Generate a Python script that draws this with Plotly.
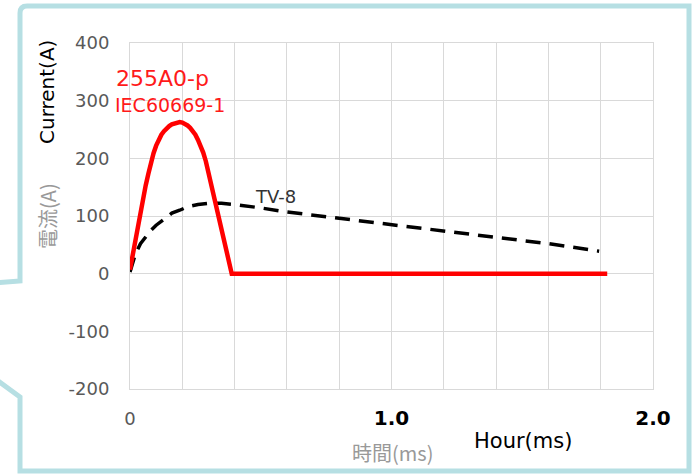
import plotly.graph_objects as go

# ---- data ----
pulse_t = [0, 0.01, 0.02, 0.03, 0.04, 0.05, 0.06, 0.07, 0.08, 0.09, 0.10, 0.11, 0.12, 0.13, 0.14, 0.15, 0.16, 0.17,
           0.18, 0.19, 0.20, 0.21, 0.22, 0.23, 0.24, 0.25, 0.26, 0.27, 0.28, 0.29, 0.30, 0.31, 0.32, 0.33, 0.34, 0.35,
           0.36, 0.37, 0.38, 0.389, 1.825]
pulse_i = [7, 33, 58, 83, 108, 131, 153, 173, 194, 209, 222, 233, 241, 247, 252, 256, 259, 261,
           263, 263, 262, 260, 257, 253, 248, 241, 232, 222, 210, 195, 176, 156, 136, 116, 96, 77,
           58, 39, 19, 0, 0]

tv8_t = [0, 0.02, 0.04, 0.06, 0.08, 0.10, 0.12, 0.14, 0.16, 0.19, 0.22, 0.26, 0.30, 0.35, 0.40, 0.5, 0.6, 0.8,
         1.0, 1.2, 1.4, 1.6, 1.794]
tv8_i = [3, 33, 52, 64, 75, 84, 91, 99, 105, 110, 116, 120, 122, 122, 120, 114, 107, 96,
         85, 74, 63, 52, 39]

y_ticks = [-200, -100, 0, 100, 200, 300, 400]
y_ticktext = ["-200", "-100", "0", "100", "200", "300", "400"]
x_ticks = [0, 1.0, 2.0]
x_ticktext = ["<span style='color:#595959;font-weight:normal;font-size:18px'>0</span>", "<b>1.0</b>", "<b>2.0</b>"]

W, H = 694, 475
L, R, T, B = 130, 41, 43, 86
pw, ph = W - L - R, H - T - B


def px(x):
    return (x - L) / pw


def py(y):
    return (H - B - y) / ph


fig = go.Figure()
fig.add_trace(go.Scatter(x=tv8_t, y=tv8_i, mode="lines", line=dict(color="black", width=3.5, dash="15px,9px"),
                         name="TV-8", showlegend=False))
fig.add_trace(go.Scatter(x=pulse_t, y=pulse_i, mode="lines", line=dict(color="#ff0000", width=4.5),
                         name="255A0-p", showlegend=False))

grid = "#d9d9d9"
fig.update_xaxes(range=[0, 2.0], tickvals=x_ticks, ticktext=x_ticktext, showgrid=True, gridcolor=grid,
                 minor=dict(dtick=0.2, showgrid=True, gridcolor=grid, gridwidth=1),
                 zeroline=False, showline=True, linecolor=grid, mirror=True,
                 tickfont=dict(family="DejaVu Sans", size=20, color="black"), ticklabelstandoff=11)
fig.update_yaxes(range=[-200, 400], tickvals=y_ticks, ticktext=y_ticktext, showgrid=True, gridcolor=grid, zeroline=False,
                 showline=True, linecolor=grid, mirror=True,
                 tickfont=dict(family="DejaVu Sans", size=18, color="#595959"), ticklabelstandoff=16)

annos = [
    dict(text="255A0-p", x=px(162), y=py(79), font=dict(size=22, color="#ff1a1a")),
    dict(text="IEC60669-1", x=px(170), y=py(105), font=dict(size=19, color="#ff1a1a")),
    dict(text="TV-8", x=px(275), y=py(196), font=dict(size=18, color="#333333")),
    dict(text="Current(A)", x=px(47), y=py(92), font=dict(size=20, color="black"), textangle=-90),
    dict(text="電流(A)", x=px(47), y=py(216), font=dict(size=20, color="#999999", family="Noto Sans CJK JP"), textangle=-90),
    dict(text="時間(ms)", x=px(392), y=py(453), font=dict(size=20, color="#999999", family="Noto Sans CJK JP")),
    dict(text="Hour(ms)", x=px(523), y=py(441), font=dict(size=21, color="black")),
]
for a in annos:
    a["font"].setdefault("family", "DejaVu Sans")
    fig.add_annotation(xref="paper", yref="paper", showarrow=False, xanchor="center", yanchor="middle", **a)

# speech-bubble frame
pts = [(-6, 378), (20, 397), (20, 471), (689, 471), (689, 6), (27, 6)]
path = "M " + " L ".join(f"{px(a)},{py(b)}" for a, b in pts)
path += f" Q {px(20)},{py(6)} {px(20)},{py(13)}"
path += f" L {px(20)},{py(281)} L {px(-6)},{py(283)}"
fig.add_shape(type="path", xref="paper", yref="paper", path=path, line=dict(color="#b6dfe3", width=5), layer="below")

fig.update_layout(width=W, height=H, autosize=False, margin=dict(l=L, r=R, t=T, b=B),
                  paper_bgcolor="white", plot_bgcolor="white", showlegend=False,
                  font=dict(family="DejaVu Sans"))
fig.write_html("out.html", config={"displayModeBar": False})

# remove default page margin so the figure sits at the window origin
with open("out.html", encoding="utf-8") as f:
    html = f.read()
html = html.replace("<head>", "<head><style>html,body{margin:0;padding:0;overflow:hidden;}</style>", 1)
with open("out.html", "w", encoding="utf-8") as f:
    f.write(html)
